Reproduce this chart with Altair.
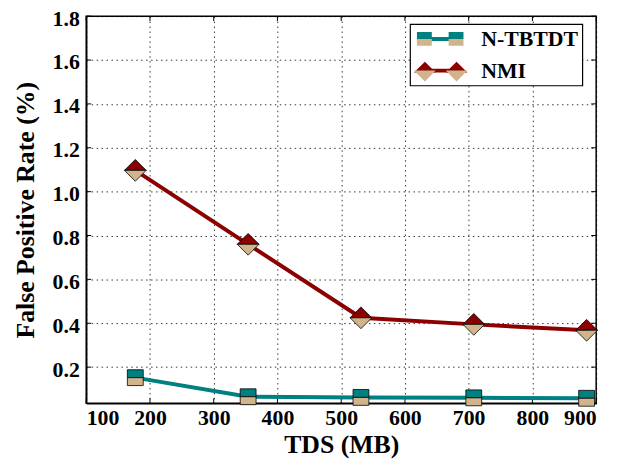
import altair as alt
import pandas as pd

# ---- data ----
tds_mb = [177, 354, 531, 708, 885]
fpr_ntbtdt = [0.152, 0.065, 0.062, 0.060, 0.058]
fpr_nmi = [1.097, 0.760, 0.425, 0.395, 0.368]
series = ["N-TBTDT", "NMI"]
x_ticks = [100, 200, 300, 400, 500, 600, 700, 800, 900]
y_ticks = [0.2, 0.4, 0.6, 0.8, 1.0, 1.2, 1.4, 1.6, 1.8]

TEAL = "#008080"
TAN = "#D2B48C"
DARKRED = "#8B0000"
FONT = "'Liberation Serif', 'Times New Roman', 'DejaVu Serif', serif"
W, H = 515, 391

df = pd.DataFrame({
    "tds": tds_mb + tds_mb,
    "fpr": fpr_ntbtdt + fpr_nmi,
    "series": [series[0]] * len(tds_mb) + [series[1]] * len(tds_mb),
})
xt = pd.DataFrame({"tds": x_ticks})
yt = pd.DataFrame({"fpr": y_ticks})

xs = alt.Scale(domain=[100, 900], nice=False, zero=False)
ys = alt.Scale(domain=[0.035, 1.8], nice=False, zero=False)

x_axis = alt.Axis(values=x_ticks, format="d", title="TDS (MB)", grid=True, ticks=False,
                  labelPadding=4, titleY=42, titleBaseline="middle")
y_axis = alt.Axis(values=y_ticks, format=".1f", title="False Positive Rate (%)", grid=True,
                  ticks=False, labelPadding=7, titleX=-61, titleY=H / 2,
                  titleBaseline="middle", labelOffset=2)

X = alt.X("tds:Q", scale=xs, axis=x_axis)
Y = alt.Y("fpr:Q", scale=ys, axis=y_axis)

# marker half shapes
SQ_TOP = "M-1,-1L1,-1L1,0L-1,0Z"
SQ_BOT = "M-1,0L1,0L1,1L-1,1Z"
DI_TOP = "M-1,0L0,-1L1,0Z"
DI_BOT = "M-1,0L0,1L1,0Z"

layers = []

# inward ticks
tk = dict(color="black", strokeWidth=1)
layers.append(alt.Chart(xt).mark_rule(**tk).encode(x=X, y=alt.value(H), y2=alt.value(H - 5)))
layers.append(alt.Chart(xt).mark_rule(**tk).encode(x=X, y=alt.value(0), y2=alt.value(5)))
layers.append(alt.Chart(yt).mark_rule(**tk).encode(y=Y, x=alt.value(0), x2=alt.value(5)))
layers.append(alt.Chart(yt).mark_rule(**tk).encode(y=Y, x=alt.value(W), x2=alt.value(W - 5)))

for name, color, top, bot, size in [
    (series[0], TEAL, SQ_TOP, SQ_BOT, 256),
    (series[1], DARKRED, DI_TOP, DI_BOT, 484),
]:
    b = alt.Chart(df).transform_filter(alt.datum.series == name)
    layers.append(b.mark_line(color=color, strokeWidth=4).encode(x=X, y=Y))
    layers.append(b.mark_point(shape=top, filled=True, fill=color, stroke="black", strokeWidth=0.8,
                               size=size, opacity=1).encode(x=X, y=Y))
    layers.append(b.mark_point(shape=bot, filled=True, fill=TAN, stroke="black", strokeWidth=0.8,
                               size=size, opacity=1).encode(x=X, y=Y))

# ---- legend (three overlaid legends: line, top halves, bottom halves) ----
# coordinates in units of r = 10.5 px (symbolSize 441)
def pth(pts_list):
    out = []
    for pts in pts_list:
        out.append("M" + "L".join(f"{x / 10.5:.3f},{y / 10.5:.3f}" for x, y in pts) + "Z")
    return " ".join(out)

SQ2_TOP = pth([[(-24, -7), (-9, -7), (-9, 0), (-24, 0)], [(8, -7), (23, -7), (23, 0), (8, 0)]])
SQ2_BOT = pth([[(-24, 0), (-9, 0), (-9, 7), (-24, 7)], [(8, 0), (23, 0), (23, 7), (8, 7)]])
DI2_TOP = pth([[(-27, 0), (-16, -11), (-5, 0)], [(5, 0), (16, -11), (27, 0)]])
DI2_BOT = pth([[(-27, 0), (-16, 11), (-5, 0)], [(5, 0), (16, 11), (27, 0)]])
LINE2 = pth([[(-16, -2), (16, -2), (16, 2), (-16, 2)]])

LEG = dict(orient="none", legendX=327, legendY=8, title=None, labelFont=FONT, labelFontSize=22,
           labelFontWeight="bold", symbolSize=441, symbolOffset=16, labelOffset=30, padding=4,
           rowPadding=10, cornerRadius=0, symbolStrokeWidth=0.8)

empty = alt.Chart(df).transform_filter("false")
leg_line = empty.mark_point(filled=True, opacity=1).encode(
    x=X, y=Y,
    fill=alt.Fill("series:N", scale=alt.Scale(domain=series, range=[TEAL, DARKRED]),
                  legend=alt.Legend(**LEG, symbolType=LINE2, symbolStrokeColor="transparent",
                                    strokeColor="black", fillColor="white",
                                    labelColor="transparent", zindex=1)))
leg_top_props = dict(**LEG, symbolStrokeColor="black", labelColor="transparent", zindex=2)
leg_top = empty.mark_point(filled=True, opacity=1).encode(
    x=X, y=Y,
    shape=alt.Shape("series:N", scale=alt.Scale(domain=series, range=[SQ2_TOP, DI2_TOP]),
                    legend=alt.Legend(**leg_top_props)),
    fill=alt.Fill("series:N", scale=alt.Scale(domain=series, range=[TEAL, DARKRED]),
                  legend=alt.Legend(**leg_top_props)))
leg_bot = empty.mark_point(filled=True, fill=TAN, stroke="black", strokeWidth=0.8, opacity=1).encode(
    x=X, y=Y,
    shape=alt.Shape("series:N", scale=alt.Scale(domain=series, range=[SQ2_BOT, DI2_BOT]),
                    legend=alt.Legend(**LEG, symbolFillColor=TAN, symbolStrokeColor="black",
                                      labelColor="black", zindex=3)))
layers += [leg_line, leg_top, leg_bot]

chart = (
    alt.layer(*layers)
    .properties(width=W, height=H, autosize=alt.AutoSizeParams(type="none"),
                padding={"left": 79, "top": 6, "right": 17, "bottom": 55})
    .resolve_scale(shape="independent", fill="independent")
    .configure_view(stroke="black", strokeWidth=1.5)
    .configure_axis(labelFont=FONT, labelFontSize=22, labelFontWeight="bold", labelColor="black",
                    titleFont=FONT, titleFontSize=26, titleFontWeight="bold", titleColor="black",
                    domainColor="black", domainWidth=1.5, gridColor="black", gridDash=[1.5, 3.5],
                    gridWidth=0.8, gridOpacity=1)
    .configure_legend(strokeWidth=1.2)
)

chart.save("out.html", embed_options={"renderer": "svg", "actions": False})
